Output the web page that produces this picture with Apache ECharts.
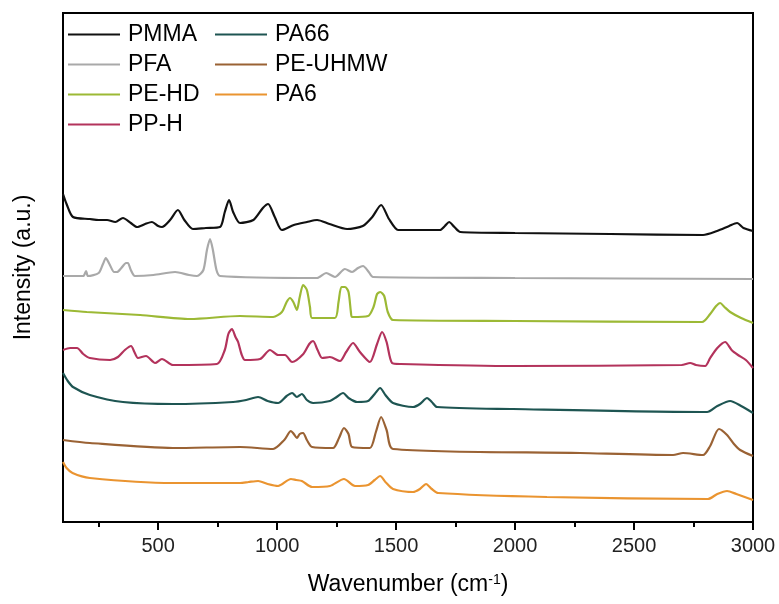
<!DOCTYPE html>
<html>
<head>
<meta charset="utf-8">
<script src="https://cdn.jsdelivr.net/npm/echarts@6/dist/echarts.min.js"></script>
<style>
    html, body { margin: 0; padding: 0; background: #fff; }
    #chart { width: 779px; height: 604px; }
</style>
</head>
<body>
<div id="chart"></div>
<script>
// wavenumber (cm-1), stacked intensity (a.u.)
const pmma = [
    [100, 328], [115, 318], [142, 305], [213, 303], [250, 302], [285, 302], [320, 300],
    [352, 304], [385, 299], [411, 295], [445, 298], [474, 300], [500, 296], [516, 295],
    [550, 302], [583, 312], [610, 302], [646, 293], [700, 294], [760, 295], [780, 310],
    [798, 322], [815, 310], [844, 299], [900, 302], [940, 314], [962, 318], [990, 305],
    [1020, 292], [1070, 297], [1125, 300], [1168, 302], [1220, 298], [1294, 293],
    [1360, 296], [1400, 305], [1437, 317], [1470, 303], [1508, 292], [1530, 292],
    [1685, 292], [1705, 296], [1723, 300], [1745, 295], [1770, 290], [2000, 289],
    [2400, 288], [2790, 287], [2849, 291], [2900, 296], [2933, 299], [2960, 294], [3000, 291]
];
const pfa = [
    [100, 246], [185, 246], [197, 251], [205, 246], [250, 249], [268, 258], [280, 264],
    [295, 258], [315, 250], [327, 250], [345, 254], [365, 259], [373, 259], [385, 252],
    [402, 246], [480, 247], [571, 250], [630, 247], [663, 246], [690, 252], [705, 272],
    [718, 283], [730, 272], [745, 252], [760, 246], [1168, 244], [1206, 249], [1243, 245],
    [1285, 253], [1315, 250], [1340, 254], [1361, 256], [1385, 250], [1403, 245],
    [2000, 244], [3000, 243]
];
const peHd = [
    [100, 212], [200, 210], [424, 207], [634, 203], [844, 206], [983, 205], [1020, 210],
    [1040, 220], [1054, 224], [1068, 220], [1083, 212], [1095, 225], [1109, 237],
    [1125, 232], [1138, 215], [1147, 204], [1243, 204], [1258, 220], [1270, 235],
    [1285, 235], [1300, 230], [1310, 210], [1315, 205], [1382, 206], [1405, 215],
    [1420, 228], [1433, 230], [1450, 226], [1465, 210], [1487, 202], [2000, 201],
    [2786, 200], [2820, 208], [2845, 216], [2862, 219], [2880, 215], [2904, 210],
    [2950, 204], [3000, 199]
];
const ppH = [
    [100, 172], [130, 174], [159, 174], [185, 168], [213, 164], [298, 162], [331, 165],
    [360, 172], [386, 176], [400, 170], [415, 164], [449, 166], [487, 159], [516, 163],
    [562, 157], [747, 158], [780, 172], [795, 188], [810, 193], [825, 185], [836, 180],
    [850, 168], [865, 162], [928, 163], [970, 172], [1004, 167], [1033, 167], [1063, 160],
    [1110, 168], [1135, 178], [1151, 181], [1170, 172], [1189, 164], [1222, 165],
    [1264, 161], [1290, 170], [1319, 179], [1348, 170], [1390, 160], [1420, 178],
    [1441, 190], [1460, 180], [1483, 159], [1520, 158], [2000, 156], [2700, 157],
    [2736, 159], [2760, 157], [2799, 156], [2820, 164], [2850, 174], [2883, 180],
    [2910, 172], [2937, 167], [2970, 162], [3000, 154]
];
const pa66 = [
    [100, 149], [120, 141], [142, 135], [213, 127], [352, 120], [562, 118], [815, 120],
    [870, 122], [920, 125], [960, 121], [1004, 119], [1040, 126], [1063, 129], [1083, 125],
    [1104, 128], [1125, 122], [1151, 119], [1222, 121], [1250, 125], [1277, 129],
    [1300, 124], [1336, 120], [1382, 121], [1410, 128], [1433, 134], [1455, 127],
    [1487, 119], [1571, 115], [1600, 118], [1630, 124], [1650, 120], [1672, 115],
    [1992, 113], [2807, 110], [2850, 116], [2904, 121], [2950, 116], [3000, 109]
];
const peUhmw = [
    [100, 82], [213, 79], [562, 74], [844, 75], [983, 73], [1030, 82], [1058, 91],
    [1070, 88], [1083, 84], [1095, 88], [1109, 89], [1125, 82], [1147, 75], [1235, 74],
    [1260, 84], [1281, 94], [1300, 88], [1315, 75], [1390, 74], [1415, 90], [1437, 105],
    [1460, 92], [1487, 73], [2273, 69], [2664, 67], [2706, 69], [2790, 67], [2820, 76],
    [2857, 93], [2891, 87], [2920, 78], [2946, 72], [3000, 66]
];
const pa6 = [
    [100, 60], [115, 54], [140, 49], [213, 44], [562, 39], [844, 39], [880, 40], [920, 41],
    [960, 38], [1004, 36], [1058, 43], [1080, 42], [1104, 41], [1147, 35], [1222, 36],
    [1281, 43], [1327, 36], [1382, 37], [1410, 42], [1433, 46], [1455, 40], [1487, 33],
    [1571, 30], [1600, 33], [1626, 38], [1650, 33], [1677, 29], [2134, 25], [2811, 23],
    [2850, 28], [2891, 31], [2930, 28], [3000, 22]
];

const majorTicks = [500, 1000, 1500, 2000, 2500, 3000];
const minorTicks = [250, 750, 1250, 1750, 2250, 2750];

const names = ["PMMA", "PFA", "PE-HD", "PP-H", "PA66", "PE-UHMW", "PA6"];
const spectra = [pmma, pfa, peHd, ppH, pa66, peUhmw, pa6];
const colors = ["#111111", "#a9a9a9", "#9cb935", "#b3335c", "#1e5552", "#9a6234", "#ea9430"];

const font = "Liberation Sans";

const chart = echarts.init(document.getElementById("chart"));

const legendBase = {
    orient: "vertical",
    top: 23,
    padding: 0,
    itemGap: 7,
    itemWidth: 52,
    itemHeight: 2,
    icon: "rect",
    textStyle: {
        fontFamily: font,
        fontSize: 23,
        color: "#000",
        padding: [0, 0, 0, 3]
    }
};

chart.setOption({
    animation: false,
    color: colors,
    grid: {
        left: 63,
        right: 26,
        top: 13,
        bottom: 82,
        show: true,
        borderColor: "#000",
        borderWidth: 2
    },
    legend: [
        Object.assign({}, legendBase, { left: 68, data: names.slice(0, 4) }),
        Object.assign({}, legendBase, { left: 215, data: names.slice(4) })
    ],
    xAxis: [
        {
            type: "value",
            min: 100,
            max: 3000,
            name: "Wavenumber (cm{sup|-1})",
            nameLocation: "middle",
            nameGap: 51,
            nameTextStyle: {
                fontFamily: font,
                fontSize: 23,
                color: "#000",
                rich: {
                    sup: {
                        fontFamily: font,
                        fontSize: 14,
                        color: "#000",
                        verticalAlign: "top",
                        padding: [0, 0, 10, 0]
                    }
                }
            },
            axisLine: { lineStyle: { color: "#000", width: 2 } },
            axisTick: {
                customValues: majorTicks,
                inside: false,
                length: 8,
                lineStyle: { color: "#000", width: 2 }
            },
            axisLabel: {
                customValues: majorTicks,
                margin: 14,
                fontFamily: font,
                fontSize: 20,
                color: "#222",
                formatter: function (v) { return String(v); }
            },
            splitLine: { show: false }
        },
        {
            type: "value",
            min: 100,
            max: 3000,
            position: "bottom",
            offset: 0,
            axisLine: { show: false },
            axisTick: {
                customValues: minorTicks,
                inside: false,
                length: 5,
                lineStyle: { color: "#000", width: 2 }
            },
            axisLabel: { show: false },
            splitLine: { show: false }
        }
    ],
    yAxis: {
        type: "value",
        min: 0,
        max: 509,
        name: "Intensity (a.u.)",
        nameLocation: "middle",
        nameGap: 28,
        nameTextStyle: {
            fontFamily: font,
            fontSize: 23,
            color: "#000"
        },
        axisLine: { show: false },
        axisTick: { show: false },
        axisLabel: { show: false },
        splitLine: { show: false }
    },
    series: spectra.map(function (data, i) {
        return {
            name: names[i],
            type: "line",
            data: data,
            showSymbol: false,
            symbol: "none",
            smooth: 0.25,
            lineStyle: { width: 2.2, color: colors[i] },
            itemStyle: { color: colors[i] }
        };
    })
});
</script>
</body>
</html>
